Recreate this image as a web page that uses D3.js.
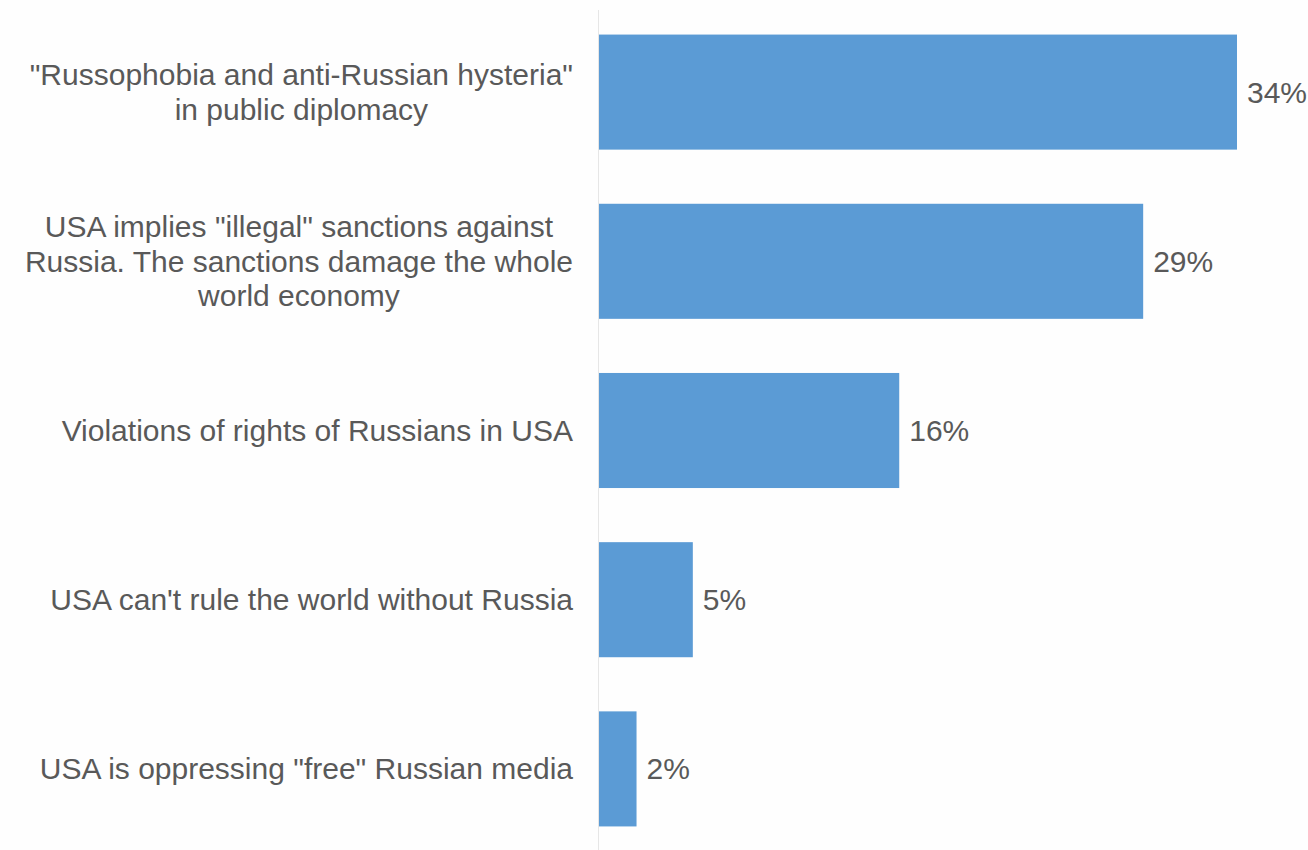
<!DOCTYPE html>
<html>
<head>
<meta charset="utf-8">
<script src="https://cdn.jsdelivr.net/npm/d3@7"></script>
<style>
  html, body { margin: 0; padding: 0; background: #fefefe; }
  svg { display: block; }
</style>
</head>
<body>
<svg id="chart" width="1308" height="850"></svg>
<script>
// Narratives and their shares (percent)
const categories = [
  ["\"Russophobia and anti-Russian hysteria\"", "in public diplomacy"],
  ["USA implies \"illegal\" sanctions against", "Russia. The sanctions damage the whole", "world economy"],
  ["Violations of rights of Russians in USA"],
  ["USA can't rule the world without Russia"],
  ["USA is oppressing \"free\" Russian media"]
];
const values = [34, 29, 16, 5, 2];
const valueLabels = ["34%", "29%", "16%", "5%", "2%"];

const svg = d3.select("#chart");
const fontSize = 30;
const lineH = 34.5;
const textColor = "#595959";
const barColor = "#5b9bd5";

const x0 = 599;
const x = d3.scaleLinear().domain([0, 34]).range([x0, x0 + 638]);
const y = d3.scaleBand().domain(d3.range(values.length)).range([7.5, 853.5]).paddingInner(0.32).paddingOuter(0.16);

// vertical category axis line
svg.append("line")
  .attr("x1", x0 - 0.5).attr("x2", x0 - 0.5)
  .attr("y1", 10).attr("y2", 850)
  .attr("stroke", "#e6e6e6").attr("stroke-width", 1);

// bars
svg.selectAll("rect.bar").data(values).join("rect")
  .attr("class", "bar")
  .attr("x", x0)
  .attr("y", (d, i) => y(i))
  .attr("width", d => x(d) - x0)
  .attr("height", y.bandwidth())
  .attr("fill", barColor);

// value labels
svg.selectAll("text.val").data(values).join("text")
  .attr("class", "val")
  .attr("x", d => x(d) + 10)
  .attr("y", (d, i) => y(i) + y.bandwidth() / 2)
  .attr("dy", "0.35em")
  .attr("font-family", "Liberation Sans, Arial, sans-serif")
  .attr("font-size", fontSize)
  .attr("fill", textColor)
  .text((d, i) => valueLabels[i]);

// category labels: lines centred within a block that is right-aligned to the axis
const labelRight = 573;
categories.forEach((lines, i) => {
  const g = svg.append("g");
  const cy = y(i) + y.bandwidth() / 2;
  const texts = lines.map((ln, k) => g.append("text")
    .attr("y", cy + (k - (lines.length - 1) / 2) * lineH)
    .attr("dy", "0.35em")
    .attr("text-anchor", "middle")
    .attr("font-family", "Liberation Sans, Arial, sans-serif")
    .attr("font-size", fontSize)
    .attr("fill", textColor)
    .text(ln));
  const maxW = d3.max(texts, t => t.node().getComputedTextLength());
  texts.forEach(t => t.attr("x", labelRight - maxW / 2));
});
</script>
</body>
</html>
